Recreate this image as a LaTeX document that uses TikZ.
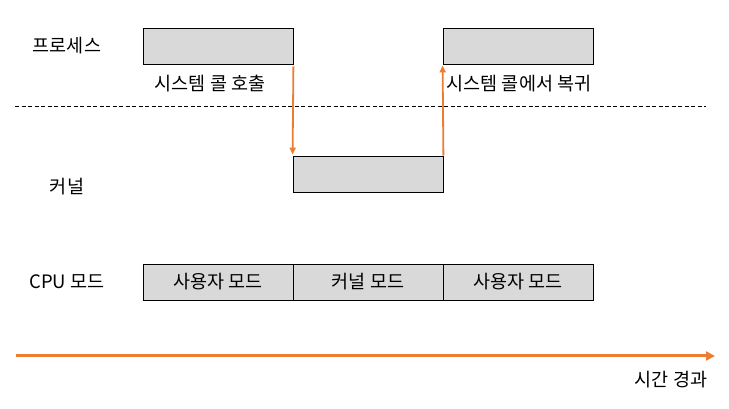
\documentclass[tikz,border=0pt]{standalone}
\usepackage{fontspec}
\setmainfont{Noto Sans CJK KR}
\usepackage{xcolor}
\usetikzlibrary{arrows.meta}
\definecolor{boxgray}{HTML}{D9D9D9}
\definecolor{timeorange}{HTML}{ED7D31}

\begin{document}
\begin{tikzpicture}[x=1pt,y=1pt,shorten >=1pt,font=\fontsize{18.5}{22}\selectfont]
	    \tikzstyle{phase}=[draw,fill=boxgray,line width=0.8pt,minimum width=150pt,minimum height=36pt,inner sep=0pt]
	    \tikzstyle{switch}=[draw=timeorange,line width=1.8pt,-{Triangle[length=7pt,width=6pt]}]
	    \useasboundingbox (0,0) rectangle (729,409);
 
	    \node(proc) at (67,363){프로세스};
	    \node(kern) at (67,222){커널};
	    \node(cpu) at (67,127){CPU 모드};
 
	    \node[phase](p1) at (218,363){};
	    \node[phase](p2) at (518,363){};
	    \node[phase](k1) at (368,235){};
 
	    \node[phase](m1) at (218,127){사용자 모드};
	    \node[phase](m2) at (368,127){커널 모드};
	    \node[phase](m3) at (518,127){사용자 모드};
 
	    \node(call) at (210,325){시스템 콜 호출};
	    \node(ret) at (519,325){시스템 콜에서 복귀};
 
	    \coordinate(sep0) at (15,303);
	    \coordinate(sep1) at (706,303);
	    \draw[dash pattern=on 4pt off 2.5pt,line width=0.8pt,shorten >=0pt] (sep0) -- (sep1);
 
	    \draw[switch] ([yshift=-2pt]p1.south east) -- (k1.north west);
	    \draw[switch] (k1.north east) -- (p2.south west);
 
	    \coordinate(t0) at (16,53);
	    \coordinate(t1) at (715,53);
	    \draw[draw=timeorange,line width=3pt,shorten >=0pt,-{Triangle[length=9pt,width=9pt]}] (t0) -- (t1);
	    \node(time) at (671,29){시간 경과};
	\end{tikzpicture}
\end{document}
